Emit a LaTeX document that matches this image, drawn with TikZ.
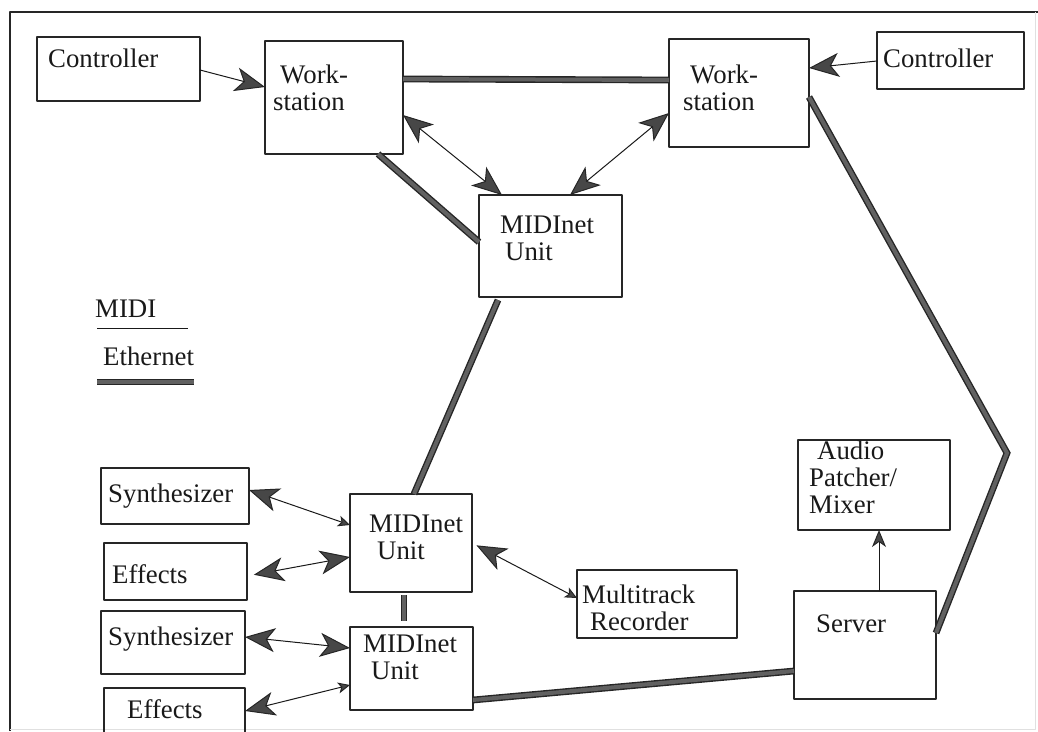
\documentclass[tikz,border=0pt]{standalone}
\usepackage{fontspec}
\setmainfont{Liberation Serif}
\usetikzlibrary{arrows.meta}

\tikzset{
  box/.style={draw=black!85,line width=1.1pt,anchor=north west,inner sep=0pt,outer sep=0pt},
  txt/.style={anchor=base west,inner sep=0pt,align=left,text=black!90,
    font=\fontsize{26.8}{27}\selectfont},
  midi/.style={draw=black!90,line width=1pt},
  eth/.style={draw=black!85,line width=1.4pt,double=black!62,double distance=4pt,
    line join=miter,line cap=butt},
  % arrow heads
  tobig/.style={arrows={-Stealth[length=30pt,width=24pt,inset=8pt,fill=black!72,color=black!85]}},
  bothbig/.style={arrows={Stealth[length=30pt,width=24pt,inset=8pt,fill=black!72,color=black!85]-Stealth[length=30pt,width=24pt,inset=8pt,fill=black!72,color=black!85]}},
  bigsmall/.style={arrows={Stealth[length=30pt,width=24pt,inset=8pt,fill=black!72,color=black!85]-Stealth[length=12pt,width=11pt,inset=3pt,fill=black!72,color=black!85]}},
  tomid/.style={arrows={-Stealth[length=17pt,width=14pt,inset=5pt,fill=black!72,color=black!85]}},
}

\begin{document}
\begin{tikzpicture}[x=1pt,y=-1pt,line join=bevel]
      \useasboundingbox (0,0) rectangle (1038,731);
      % frame
      \draw[black!85,line width=1.6pt] (10,731) -- (10,12) -- (1038,12);
      \draw[black!12,line width=0.8pt] (1035,12) -- (1035,729) -- (10,729);
      %%
      % Node: ctrlL
      \node[box,minimum width=163pt,minimum height=64pt] (ctrlL) at (37,37) {};
      \node[txt] (ctrlLtxt) at (48,67) {Controller};
      % Node: wsL
      \node[box,minimum width=138pt,minimum height=113pt] (wsL) at (265,41) {};
      \node[txt] (wsLtxt) at (273,110) {\hspace*{7pt}Work-\\station};
      % Node: wsR
      \node[box,minimum width=140pt,minimum height=108pt] (wsR) at (669,39) {};
      \node[txt] (wsRtxt) at (683,110) {\hspace*{7pt}Work-\\station};
      % Node: ctrlR
      \node[box,minimum width=147pt,minimum height=57pt] (ctrlR) at (877,32) {};
      \node[txt] (ctrlRtxt) at (883,67) {Controller};
      % Node: unitA
      \node[box,minimum width=143pt,minimum height=102pt] (unitA) at (479,195) {};
      \node[txt] (unitAtxt) at (500,260) {MIDInet\\\hspace*{5pt}Unit};
      % Node: unitB
      \node[box,minimum width=122pt,minimum height=98pt] (unitB) at (350,494) {};
      \node[txt] (unitBtxt) at (369,559) {MIDInet\\\hspace*{8pt}Unit};
      % Node: unitC
      \node[box,minimum width=123pt,minimum height=83pt] (unitC) at (350,627) {};
      \node[txt] (unitCtxt) at (363,679) {MIDInet\\\hspace*{8pt}Unit};
      % Node: synthA
      \node[box,minimum width=148pt,minimum height=56pt] (synthA) at (101,468) {};
      \node[txt] (synthAtxt) at (108,502) {Synthesizer};
      % Node: fxA
      \node[box,minimum width=143pt,minimum height=57pt] (fxA) at (104,543) {};
      \node[txt] (fxAtxt) at (112,583) {Effects};
      % Node: synthB
      \node[box,minimum width=144pt,minimum height=63pt] (synthB) at (101,611) {};
      \node[txt] (synthBtxt) at (108,645) {Synthesizer};
      % Node: fxB
      \node[box,minimum width=141pt,minimum height=50pt] (fxB) at (104,688) {};
      \node[txt] (fxBtxt) at (127,718) {Effects};
      % Node: rec
      \node[box,minimum width=160pt,minimum height=68pt] (rec) at (577,570) {};
      \node[txt] (rectxt) at (582,630) {Multitrack\\\hspace*{8pt}Recorder};
      % Node: mixer
      \node[box,minimum width=152pt,minimum height=90pt] (mixer) at (798,440) {};
      \node[txt] (mixertxt) at (809,513) {\hspace*{8pt}Audio\\Patcher/\\Mixer};
      % Node: server
      \node[box,minimum width=142pt,minimum height=108pt] (server) at (794,591) {};
      \node[txt] (servertxt) at (816,632) {Server};
      %%
      % Edge: ctrlL -> wsL
      \draw[midi,tobig] (ctrlL.east |- 0,70) -- (wsL.west |- 0,87);
      % Edge: ctrlR -> wsR
      \draw[midi,tobig] (ctrlR.west |- 0,61) -- (wsR.east |- 0,68);
      % Edge: wsL <-> unitA
      \draw[midi,bothbig] (wsL.east |- 0,115) -- (unitA.north -| 502,0);
      % Edge: wsR <-> unitA
      \draw[midi,bothbig] (wsR.west |- 0,113) -- (unitA.north -| 570,0);
      % Edge: synthA <-> unitB
      \draw[midi,bigsmall] (synthA.east |- 0,490) -- (unitB.west |- 0,525);
      % Edge: fxA <-> unitB
      \draw[midi,bothbig,shorten <=7pt] (fxA.east |- 0,576) -- (unitB.west |- 0,557);
      % Edge: synthB <-> unitC
      \draw[midi,bothbig] (synthB.east |- 0,637) -- (unitC.west |- 0,648);
      % Edge: fxB <-> unitC
      \draw[midi,bigsmall] (fxB.east |- 0,711) -- (unitC.west |- 0,685);
      % Edge: unitB <-> rec
      \draw[midi,bigsmall,shorten <=5pt] (unitB.east |- 0,543) -- (rec.west |- 0,598);
      % Edge: server -> mixer
      \draw[midi,tomid] (server.north -| 879,0) -- (mixer.south -| 879,0);
      %%
      % Ethernet
      \coordinate (bend) at (1007,453);
      \draw[eth] (wsL.east |- 0,79) -- (wsR.west |- 0,80);
      \draw[eth] (wsL.south -| 378,0) -- (unitA.west |- 0,242);
      \draw[eth] (wsR.east |- 0,97) -- (bend) -- (server.east |- 0,633);
      \draw[eth] (unitA.south -| 498,0) ++(0,3) -- (unitB.north -| 414,0);
      \draw[eth] (unitB.south -| 404,0) ++(0,3) -- ([yshift=6pt]unitC.north -| 404,0);
      \draw[eth] (unitC.east |- 0,700) -- (server.west |- 0,671);
      %%
      % legend
      \node[txt] (midikey) at (95,317) {MIDI};
      \node[txt] (ethkey) at (103,365) {Ethernet};
      \draw[midi] (97,328) -- (188,328);
      \draw[eth] (97,382) -- (194,382);
\end{tikzpicture}
\end{document}
